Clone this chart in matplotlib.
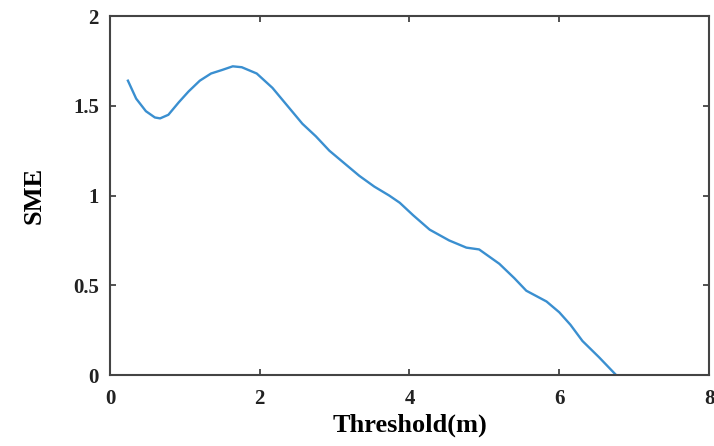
import numpy as np
import matplotlib.pyplot as plt

# values
threshold = [0.24, 0.35, 0.48, 0.60, 0.67, 0.78, 0.92, 1.05, 1.20, 1.35, 1.50, 1.64, 1.76, 1.96,
             2.17, 2.35, 2.57, 2.75, 2.93, 3.13, 3.33, 3.53, 3.73, 3.87, 4.05, 4.27, 4.53,
             4.76, 4.93, 5.20, 5.40, 5.56, 5.83, 6.00, 6.15, 6.31, 6.53, 6.76]
sme = [1.64, 1.54, 1.47, 1.435, 1.43, 1.45, 1.52, 1.58, 1.64, 1.68, 1.70, 1.72, 1.715, 1.68,
       1.60, 1.51, 1.40, 1.33, 1.25, 1.18, 1.11, 1.05, 1.00, 0.96, 0.89, 0.81, 0.75,
       0.71, 0.70, 0.62, 0.54, 0.47, 0.41, 0.35, 0.28, 0.19, 0.10, 0.0]

xticks = [0, 2, 4, 6, 8]
yticks = [0, 0.5, 1, 1.5, 2]
ytick_labels = ["0", "0.5", "1", "1.5", "2"]

plt.rcParams["font.family"] = ["Liberation Serif", "DejaVu Serif"]
plt.rcParams["font.weight"] = "bold"

fig = plt.figure(figsize=(7.14, 4.46), dpi=100)
ax = fig.add_axes([0.154, 0.159, 0.839, 0.805])

ax.plot(threshold, sme, color="#3a8fd0", linewidth=1.7)

ax.set_xlim(0, 8)
ax.set_ylim(0, 2)
ax.set_xticks(xticks)
ax.set_yticks(yticks)
ax.set_yticklabels(ytick_labels)
ax.tick_params(direction="in", top=True, right=True, length=4, width=1.2,
               labelsize=15, colors="#333333", labelcolor="#222222")
ax.tick_params(axis="x", pad=10)
ax.tick_params(axis="y", pad=8)
for lab in ax.get_xticklabels() + ax.get_yticklabels():
    lab.set_fontweight("bold")
for sp in ax.spines.values():
    sp.set_linewidth(1.5)
    sp.set_color("#444444")

ax.set_xlabel("Threshold(m)", fontsize=19, fontweight="bold", labelpad=3)
ax.set_ylabel("SME", fontsize=19, fontweight="bold", labelpad=20)

fig.savefig("out.png", dpi=100)
